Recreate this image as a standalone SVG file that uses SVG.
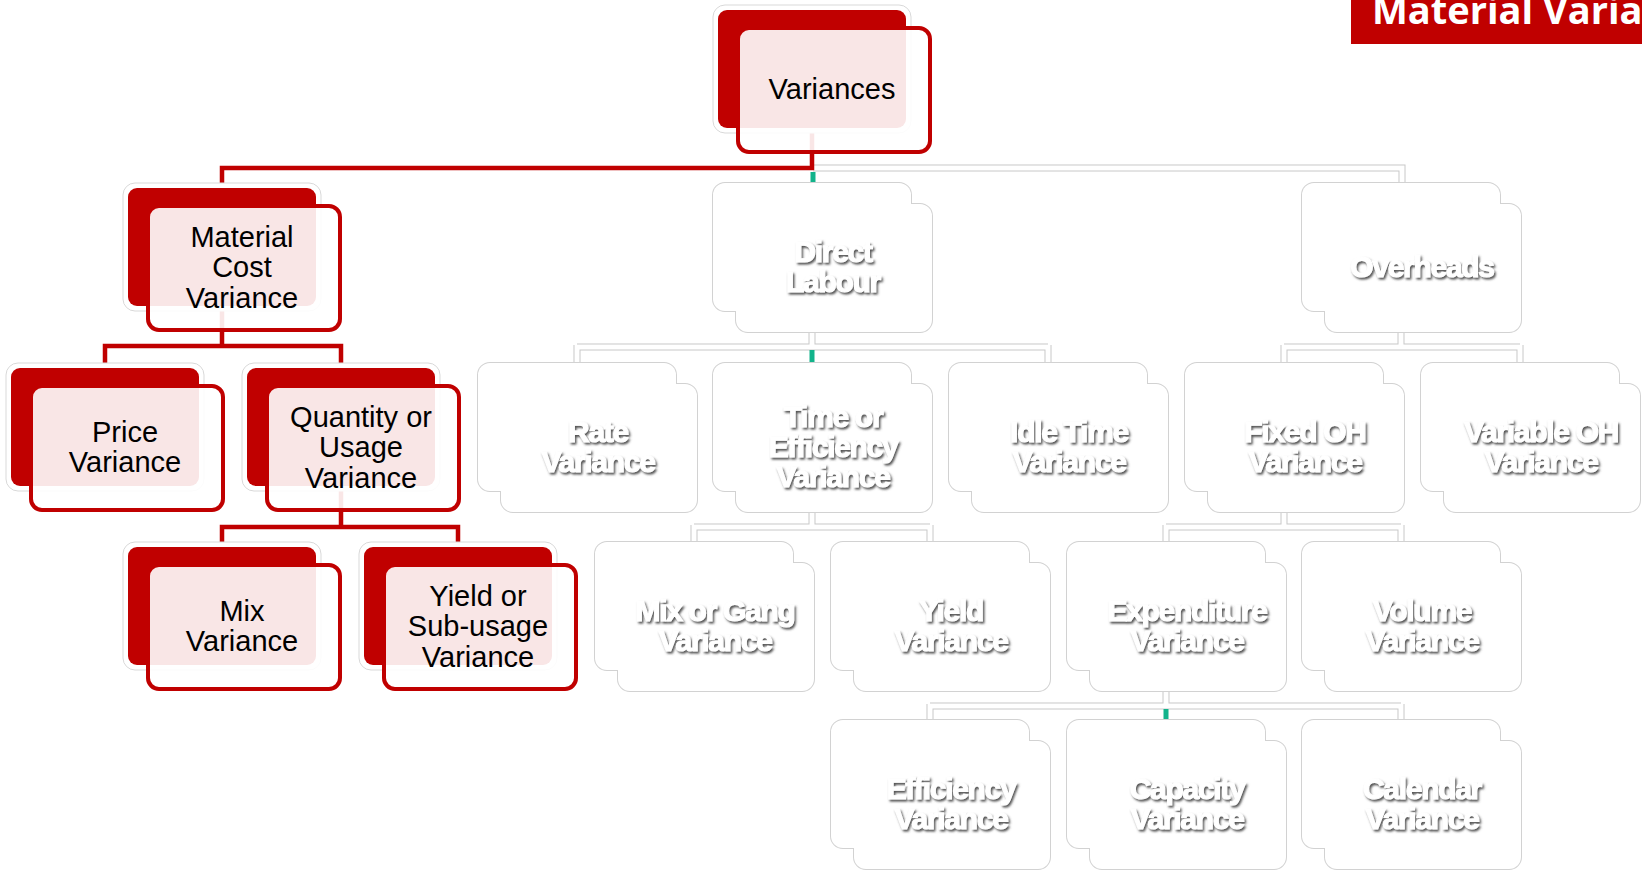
<svg xmlns="http://www.w3.org/2000/svg" xmlns:xlink="http://www.w3.org/1999/xlink" width="1642" height="872" viewBox="0 0 1642 872">
<style>
.go{fill:#fff;stroke:#d2d2d2;stroke-width:2}
.gf{fill:#fff}
.ht{font-family:"Liberation Sans",Arial,sans-serif;font-size:29px;fill:#000;text-anchor:middle}
.gt{font-family:"Liberation Sans",Arial,sans-serif;font-size:30px;font-weight:bold;fill:#fff;stroke:#fff;stroke-width:1.1px;text-anchor:middle;letter-spacing:-1.3px;filter:url(#emb)}
.cgo{fill:none;stroke:#c8c8c8;stroke-width:7}
.cgi{fill:none;stroke:#fff;stroke-width:5}
.cr{fill:none;stroke:#C00000;stroke-width:4.5}
.teal{fill:#12b38b}
</style>
<defs>
<filter id="emb" x="-10%" y="-30%" width="120%" height="160%">
<feDropShadow dx="1.5" dy="2" stdDeviation="1.3" flood-color="#4a4a4a" flood-opacity="0.95"/>
</filter>
<g id="ghost">
<rect class="go" x="0" y="0" width="198" height="128" rx="12"/>
<rect class="go" x="23" y="21" width="196" height="128" rx="12"/>
<rect class="gf" x="0" y="0" width="198" height="128" rx="12"/>
<rect class="gf" x="23" y="21" width="196" height="128" rx="12"/>
</g>
<g id="hi">
<rect x="0" y="0" width="198" height="128" rx="12" fill="#fff" stroke="#d9d9d9" stroke-width="1"/>
<rect x="5" y="5" width="188" height="118" rx="9" fill="#C00000"/>
<rect x="25" y="23" width="192" height="124" rx="11" fill="#fff" fill-opacity="0.9" stroke="#C00000" stroke-width="4"/>
</g>
</defs>
<rect width="1642" height="872" fill="#fff"/>

<g id="connectors">
<g class="cgo">
<path d="M813,168 H1402 V185"/>
<path d="M812,308 V347"/><path d="M577,347 H1048 M577,345 V366 M1048,345 V366"/>
<path d="M1401,308 V347"/><path d="M1284,347 H1520 M1284,345 V366 M1520,345 V366"/>
<path d="M812,488 V527"/><path d="M694,527 H930 M694,525 V545 M930,525 V545"/>
<path d="M1284,488 V527"/><path d="M1166,527 H1401 M1166,525 V545 M1401,525 V545"/>
<path d="M1166,667 V706"/><path d="M930,706 H1401 M930,704 V723 M1401,704 V723"/>
</g>
<g class="cgi">
<path d="M813,168 H1402 V185"/>
<path d="M812,308 V347"/><path d="M577,347 H1048 M577,345 V366 M1048,345 V366"/>
<path d="M1401,308 V347"/><path d="M1284,347 H1520 M1284,345 V366 M1520,345 V366"/>
<path d="M812,488 V527"/><path d="M694,527 H930 M694,525 V545 M930,525 V545"/>
<path d="M1284,488 V527"/><path d="M1166,527 H1401 M1166,525 V545 M1401,525 V545"/>
<path d="M1166,667 V706"/><path d="M930,706 H1401 M930,704 V723 M1401,704 V723"/>
</g>
<rect class="teal" x="810.5" y="172" width="5" height="12"/>
<rect class="teal" x="809.5" y="350" width="5" height="14"/>
<rect class="teal" x="1163.5" y="709" width="5" height="12"/>
<g class="cr">
<path d="M812,130 V168 H222 V186"/>
<path d="M222,308 V346 H105 V366 M222,346 H341 V366"/>
<path d="M341,488 V527 H222 V545 M341,527 H458 V545"/>
</g>
</g>

<g id="n-variances" transform="translate(713,5)"><use xlink:href="#hi"/><text class="ht" x="119" y="94">Variances</text></g>

<g id="n-mcv" transform="translate(123,183)"><use xlink:href="#hi"/><text class="ht" x="119" y="63.5">Material</text><text class="ht" x="119" y="94">Cost</text><text class="ht" x="119" y="124.5">Variance</text></g>
<g id="n-directlabour" transform="translate(713,183)"><use xlink:href="#ghost"/><text class="gt" x="120" y="79">Direct</text><text class="gt" x="120" y="109">Labour</text></g>
<g id="n-overheads" transform="translate(1302,183)"><use xlink:href="#ghost"/><text class="gt" x="120" y="94">Overheads</text></g>

<g id="n-price" transform="translate(6,363)"><use xlink:href="#hi"/><text class="ht" x="119" y="78.75">Price</text><text class="ht" x="119" y="109.25">Variance</text></g>
<g id="n-quantity" transform="translate(242,363)"><use xlink:href="#hi"/><text class="ht" x="119" y="63.5">Quantity or</text><text class="ht" x="119" y="94">Usage</text><text class="ht" x="119" y="124.5">Variance</text></g>
<g id="n-rate" transform="translate(478,363)"><use xlink:href="#ghost"/><text class="gt" x="120" y="79">Rate</text><text class="gt" x="120" y="109">Variance</text></g>
<g id="n-time" transform="translate(713,363)"><use xlink:href="#ghost"/><text class="gt" x="120" y="64">Time or</text><text class="gt" x="120" y="94">Efficiency</text><text class="gt" x="120" y="124">Variance</text></g>
<g id="n-idle" transform="translate(949,363)"><use xlink:href="#ghost"/><text class="gt" x="120" y="79">Idle Time</text><text class="gt" x="120" y="109">Variance</text></g>
<g id="n-fixedoh" transform="translate(1185,363)"><use xlink:href="#ghost"/><text class="gt" x="120" y="79">Fixed OH</text><text class="gt" x="120" y="109">Variance</text></g>
<g id="n-variableoh" transform="translate(1421,363)"><use xlink:href="#ghost"/><text class="gt" x="120" y="79">Variable OH</text><text class="gt" x="120" y="109">Variance</text></g>

<g id="n-mix" transform="translate(123,542)"><use xlink:href="#hi"/><text class="ht" x="119" y="78.75">Mix</text><text class="ht" x="119" y="109.25">Variance</text></g>
<g id="n-yieldsub" transform="translate(359,542)"><use xlink:href="#hi"/><text class="ht" x="119" y="63.5">Yield or</text><text class="ht" x="119" y="94">Sub-usage</text><text class="ht" x="119" y="124.5">Variance</text></g>
<g id="n-mixgang" transform="translate(595,542)"><use xlink:href="#ghost"/><text class="gt" x="120" y="79">Mix or Gang</text><text class="gt" x="120" y="109">Variance</text></g>
<g id="n-yield" transform="translate(831,542)"><use xlink:href="#ghost"/><text class="gt" x="120" y="79">Yield</text><text class="gt" x="120" y="109">Variance</text></g>
<g id="n-expenditure" transform="translate(1067,542)"><use xlink:href="#ghost"/><text class="gt" x="120" y="79">Expenditure</text><text class="gt" x="120" y="109">Variance</text></g>
<g id="n-volume" transform="translate(1302,542)"><use xlink:href="#ghost"/><text class="gt" x="120" y="79">Volume</text><text class="gt" x="120" y="109">Variance</text></g>

<g id="n-efficiency" transform="translate(831,720)"><use xlink:href="#ghost"/><text class="gt" x="120" y="79">Efficiency</text><text class="gt" x="120" y="109">Variance</text></g>
<g id="n-capacity" transform="translate(1067,720)"><use xlink:href="#ghost"/><text class="gt" x="120" y="79">Capacity</text><text class="gt" x="120" y="109">Variance</text></g>
<g id="n-calendar" transform="translate(1302,720)"><use xlink:href="#ghost"/><text class="gt" x="120" y="79">Calendar</text><text class="gt" x="120" y="109">Variance</text></g>

<g id="title">
<rect x="1351" y="0" width="291" height="44" fill="#C00000"/>
<text x="1372" y="24" font-family="'Open Sans','Liberation Sans',sans-serif" font-weight="bold" font-size="38" fill="#fff">Material Varia</text>
</g>
</svg>
